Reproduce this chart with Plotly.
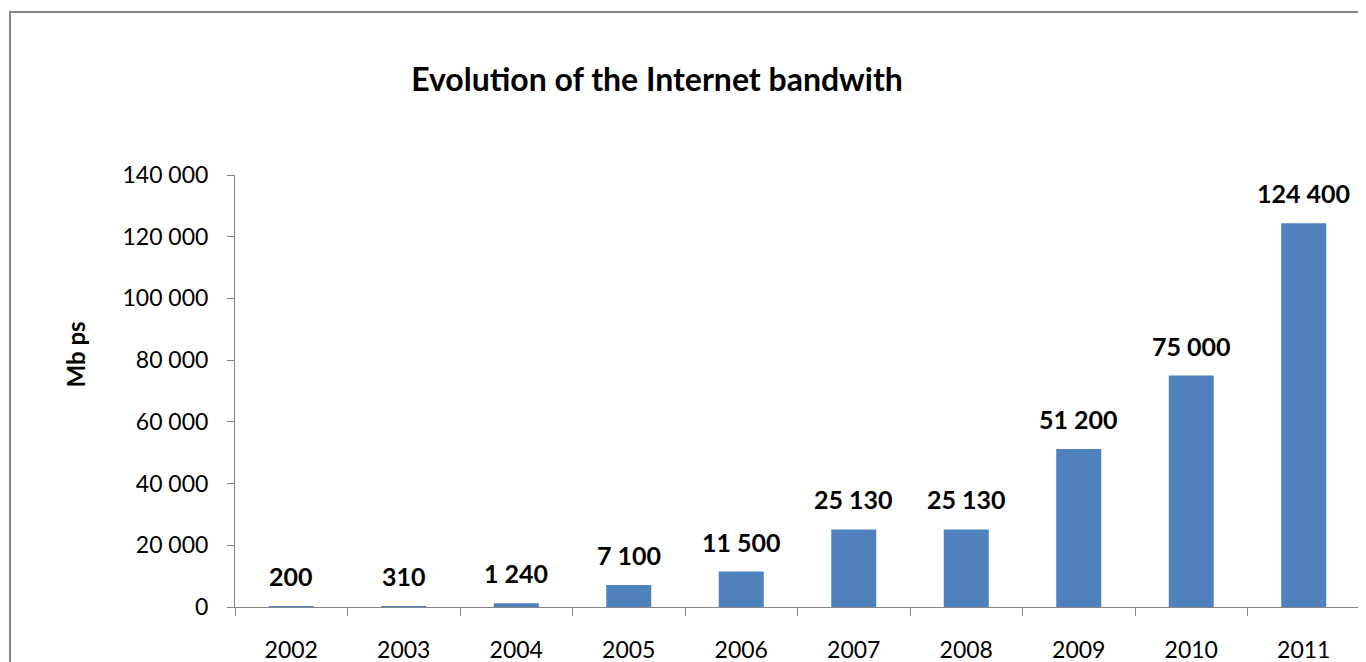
import plotly.graph_objects as go

years = ["2002", "2003", "2004", "2005", "2006", "2007", "2008", "2009", "2010", "2011"]
bandwidth = [200, 310, 1240, 7100, 11500, 25130, 25130, 51200, 75000, 124400]
y_ticks = [0, 20000, 40000, 60000, 80000, 100000, 120000, 140000]

def fmt(v):
    return f"{v:,}".replace(",", " ")

FONT = "Lato"
W, H = 1366, 662
OFF = 8  # page body margin offset
L, R, T, B = 235 - OFF, 6 + OFF, 175 - OFF, 55 + OFF
pw = W - L - R
ph = H - T - B

def px(x):
    return (x - OFF - L) / pw

def py(y):
    return (H - B - (y - OFF)) / ph

fig = go.Figure()
fig.add_trace(go.Bar(
    x=years, y=bandwidth,
    marker=dict(color="#4F81BD", line=dict(width=0)),
    width=0.4,
    hovertemplate="%{x}: %{y:,}<extra></extra>",
))

for i, v in enumerate(bandwidth):
    fig.add_annotation(x=i, y=v, xref="x", yref="y", text=f"<b>{fmt(v)}</b>",
                       showarrow=False, yanchor="bottom", yshift=13,
                       font=dict(family=FONT, size=25, color="#000000"))

fig.update_layout(
    template="none",
    width=W, height=H,
    margin=dict(l=L, r=R, t=T, b=B, autoexpand=False),
    paper_bgcolor="white", plot_bgcolor="white",
    showlegend=False,
    title=dict(text="<b>Evolution of the Internet bandwith</b>",
               x=(657 - OFF) / W, xanchor="center", y=1 - (80 - OFF) / H, yanchor="middle",
               font=dict(family=FONT, size=32, color="#000000")),
    font=dict(family=FONT, color="#000000"),
)
fig.update_xaxes(
    type="category", showgrid=False, showline=True, linecolor="#868686", linewidth=1,
    ticks="outside", ticklen=8, tickcolor="#868686", tickson="boundaries",
    tickfont=dict(family=FONT, size=23, color="#000000"),
    ticklabelstandoff=22, automargin=False,
    range=[-0.5, 9.5],
)
fig.update_yaxes(
    range=[0, 140000], tickvals=y_ticks, ticktext=[fmt(v) for v in y_ticks],
    showgrid=False, showline=True, linecolor="#868686", linewidth=1,
    ticks="outside", ticklen=7, tickcolor="#868686",
    tickfont=dict(family=FONT, size=23, color="#000000"),
    ticklabelstandoff=14, zeroline=False, automargin=False,
)
fig.add_annotation(text="<b>Mb ps</b>", xref="paper", yref="paper",
                   x=px(58), y=py(355), textangle=-90, showarrow=False,
                   font=dict(family=FONT, size=24, color="#000000"))
fig.add_shape(type="rect", xref="paper", yref="paper",
              x0=px(10), y0=py(690), x1=px(1390), y1=py(12),
              line=dict(color="#878787", width=2), fillcolor="rgba(0,0,0,0)",
              layer="below")
fig.write_html("out.html")
